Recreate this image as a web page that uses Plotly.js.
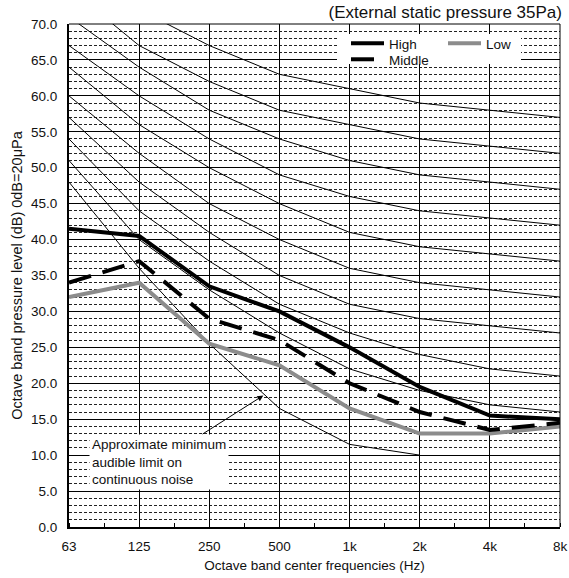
<!DOCTYPE html>
<html>
<head>
<meta charset="utf-8">
<script src="https://cdn.plot.ly/plotly-3.0.1.min.js"></script>
<style>html,body{margin:0;padding:0;background:#fff;}#chart{width:569px;height:578px;}</style>
</head>
<body>
<div id="chart"></div>
<script>
// Octave band centre frequencies (category labels)
const categories = ["63", "125", "250", "500", "1k", "2k", "4k", "8k"];

// Measured sound pressure levels (dB)
const highValues   = [41.5, 40.5, 33.5, 30.0, 25.0, 19.5, 15.5, 15.0];
const middleValues = [34.0, 37.0, 29.0, 26.0, 20.0, 16.0, 13.5, 14.5];
const lowValues    = [32.0, 34.0, 25.5, 22.5, 16.5, 13.0, 13.0, 14.0];

// NC reference curves
const nc20 = [51, 40, 33, 27, 22, 19, 17, 16];
const nc25 = [54, 44, 37, 31, 27, 24, 22, 21];
const nc30 = [57, 48, 41, 35, 31, 29, 28, 27];
const nc35 = [60, 52, 45, 40, 36, 34, 33, 32];
const nc40 = [64, 56, 50, 45, 41, 39, 38, 37];
const nc45 = [67, 60, 54, 49, 46, 44, 43, 42];
const nc50 = [71, 64, 58, 54, 51, 49, 48, 47];
const nc55 = [75, 67, 62, 58, 56, 54, 53, 52];
const nc60 = [77, 72, 67, 63, 61, 59, 58, 57];

// Approximate minimum audible limit on continuous noise (63 Hz .. 2 kHz)
const audibleLimit = [48, 36, 25.5, 16.5, 11.5, 10];

// y-axis tick values
const yTickVals = [0, 5, 10, 15, 20, 25, 30, 35, 40, 45, 50, 55, 60, 65, 70];

const idx = categories.map((c, i) => i);
const FONT = "Liberation Sans, Arial, Helvetica, sans-serif";

const traces = [];
[nc20, nc25, nc30, nc35, nc40, nc45, nc50, nc55, nc60].forEach((v) => {
  traces.push({x: idx.slice(0, v.length), y: v, mode: "lines", showlegend: false, hoverinfo: "skip",
    line: {color: "#000", width: 1}});
});
traces.push({x: idx.slice(0, audibleLimit.length), y: audibleLimit, mode: "lines", showlegend: false,
  hoverinfo: "skip", line: {color: "#000", width: 1}});
traces.push({x: idx, y: lowValues, name: "Low", mode: "lines", legend: "legend2",
  line: {color: "#8c8c8c", width: 4}});
traces.push({x: idx, y: middleValues, name: "Middle", mode: "lines", legend: "legend3",
  line: {color: "#000", width: 4, dash: "23px,12px"}});
traces.push({x: idx, y: highValues, name: "High", mode: "lines", legend: "legend",
  line: {color: "#000", width: 4}});

const W = 569, H = 578, ML = 69, MR = 9, MT = 24, MB = 51;
const PW = W - ML - MR, PH = H - MT - MB;
const px = (p) => (p - ML) / PW;          // pixel -> paper x
const py = (p) => (H - MB - p) / PH;      // pixel -> paper y

const legendBase = {xanchor: "left", yanchor: "top", bgcolor: "rgba(0,0,0,0)", borderwidth: 0,
  itemwidth: 33, font: {family: FONT, size: 13.5, color: "#111"}};

const layout = {
  width: W, height: H,
  margin: {l: ML, r: MR, t: MT, b: MB, pad: 0},
  paper_bgcolor: "#fff", plot_bgcolor: "#fff",
  font: {family: FONT, size: 13.5, color: "#111"},
  title: {text: "(External static pressure 35Pa)", font: {family: FONT, size: 17, color: "#111"},
    xref: "container", x: 562 / W, xanchor: "right", yref: "container", y: 1 - 12 / H, yanchor: "middle"},
  xaxis: {
    range: [0, 7], tickmode: "array", tickvals: idx, ticktext: categories,
    showgrid: true, gridcolor: "#000", gridwidth: 1, zeroline: false,
    showline: true, linecolor: "#000", linewidth: 2, ticks: "", ticklabelstandoff: 6,
    tickfont: {family: FONT, size: 13.5, color: "#111"},
    minor: {dtick: 0.5, tick0: 0, ticks: "inside", ticklen: 4, tickcolor: "#000", tickwidth: 1, showgrid: false},
    title: {text: "Octave band center frequencies (Hz)", font: {family: FONT, size: 13.5, color: "#111"}, standoff: 7},
    fixedrange: true
  },
  yaxis: {
    range: [0, 70], tickmode: "array", tickvals: yTickVals, tickformat: ".1f",
    showgrid: true, gridcolor: "#000", gridwidth: 1, zeroline: false,
    showline: true, linecolor: "#000", linewidth: 2, ticks: "", ticklabelstandoff: 7,
    tickfont: {family: FONT, size: 13.5, color: "#111"},
    minor: {dtick: 1, tick0: 0, showgrid: true, gridcolor: "#222", gridwidth: 1, griddash: "3px,2px", ticks: ""},
    title: {text: "Octave band pressure level (dB) 0dB=20μPa", font: {family: FONT, size: 14.5, color: "#111"}, standoff: 5},
    fixedrange: true
  },
  legend:  Object.assign({x: px(346), y: py(28)}, legendBase),
  legend3: Object.assign({x: px(346), y: py(44)}, legendBase),
  legend2: Object.assign({x: px(443), y: py(28)}, legendBase),
  shapes: [
    {type: "rect", xref: "paper", yref: "paper", x0: px(337), x1: px(521), y0: py(64), y1: py(34),
      fillcolor: "#fff", line: {width: 0}, layer: "above"},
    {type: "line", xref: "paper", yref: "paper", x0: 0, x1: 1, y0: 1, y1: 1, line: {color: "#000", width: 1}, layer: "above"},
    {type: "line", xref: "paper", yref: "paper", x0: 1, x1: 1, y0: 0, y1: 1, line: {color: "#000", width: 1}, layer: "above"}
  ],
  annotations: [{
    x: 2.77, y: 18.3, xref: "x", yref: "y",
    text: "Approximate minimum<br>audible limit on<br>continuous noise",
    align: "left", showarrow: true, ax: -104, ay: 66, axref: "pixel", ayref: "pixel",
    arrowhead: 2, arrowsize: 1.2, arrowwidth: 1, arrowcolor: "#000",
    bgcolor: "#fff", borderpad: 2, font: {family: FONT, size: 13.5, color: "#111"}
  }],
  showlegend: true
};

Plotly.newPlot("chart", traces, layout, {staticPlot: true, displayModeBar: false});
</script>
</body>
</html>
